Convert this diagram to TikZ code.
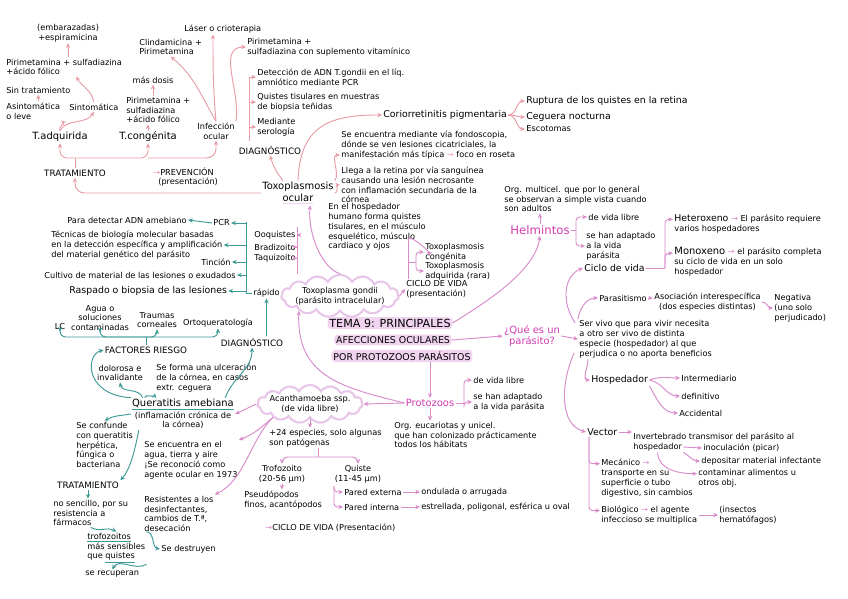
\documentclass[tikz,border=0pt]{standalone}
\usepackage{fontspec}
\setmainfont{DejaVu Sans}
\usepackage{tikz}
\usepackage{xcolor}
\usetikzlibrary{arrows.meta,positioning,shapes.symbols,calc}
\definecolor{salmon}{HTML}{E89CA5}
\definecolor{mauve}{HTML}{D88ACB}
\definecolor{magtext}{HTML}{D23DB2}
\definecolor{tealc}{HTML}{3C9995}
\definecolor{lav}{HTML}{F0D4EF}
\definecolor{cloudc}{HTML}{E7C6E8}
\begin{document}
\begin{tikzpicture}[x=0.3mm,y=-0.3mm,
txt/.style={inner sep=1pt,anchor=west,align=left,font=\fontsize{7}{8.4}\selectfont},
ctr/.style={txt,anchor=center,align=center},
mid/.style={txt,font=\fontsize{8}{9.5}\selectfont},
capt/.style={ctr,font=\fontsize{7.5}{9}\selectfont},
big/.style={ctr,font=\fontsize{8.5}{10}\selectfont},
mag/.style={ctr,text=magtext,font=\fontsize{8.5}{10}\selectfont},
tema/.style={fill=lav,rounded corners=3pt,inner sep=1.5pt,font=\fontsize{8}{9.5}\selectfont},
cloudn/.style={cloud,cloud puffs=15,cloud puff arc=120,aspect=4,draw=cloudc,line width=1.8pt,inner sep=-3pt,align=center,font=\fontsize{7}{8.4}\selectfont},
sln/.style={draw=salmon,line width=0.8pt},
sarr/.style={sln,-{Stealth[length=1.4mm,width=1.3mm]}},
pln/.style={draw=mauve,line width=0.8pt},
parr/.style={pln,-{Stealth[length=1.4mm,width=1.3mm]}},
tln/.style={draw=tealc,line width=0.8pt},
tarr/.style={tln,-{Stealth[length=1.4mm,width=1.3mm]}}
]
\useasboundingbox[fill=white] (0,0) rectangle (848,599);
\node[ctr] (esp) at (68,33) {(embarazadas)\\+espiramicina};
\node[txt] (pirA) at (5,67) {Pirimetamina + sulfadiazina\\+ácido fólico};
\node[txt] (sintrat) at (5,90) {Sin tratamiento};
\node[txt] (asint) at (5,111) {Asintomática\\o leve};
\node[txt] (sint) at (68,107) {Sintomática};
\node[big] (tadq) at (60,137) {T.adquirida};
\node[big] (tcong) at (148,137) {T.congénita};
\node[ctr] (masdosis) at (153,80) {más dosis};
\node[txt] (pirC) at (125,110) {Pirimetamina +\\sulfadiazina\\+ácido fólico};
\node[txt] (clinda) at (138,47) {Clindamicina +\\Pirimetamina};
\node[txt] (laser) at (183,29) {Láser o crioterapia};
\node[txt] (pirV) at (246,47) {Pirimetamina +\\sulfadiazina con suplemento vitamínico};
\node[ctr] (infoc) at (216,131) {Infección\\ocular};
\node[capt] (trat) at (75,173) {TRATAMIENTO};
\node[txt] (prev) at (152,177) {{\color{salmon}→}PREVENCIÓN\\\hspace{0.6em}(presentación)};
\node[capt] (diagT) at (270,150) {DIAGNÓSTICO};
\node[txt] (detec) at (256,77) {Detección de ADN T.gondii en el líq.\\amniótico mediante PCR};
\node[txt] (quist) at (256,102) {Quistes tisulares en muestras\\de biopsia teñidas};
\node[txt] (sero) at (256,127) {Mediante\\serología};
\node[big] (toxoc) at (298,193) {Toxoplasmosis\\{\color{lav}\underline{\color{black}ocular}}};
\node[mid] (corio) at (382,115) {Coriorretinitis pigmentaria};
\node[mid] (ruptura) at (525,101) {Ruptura de los quistes en la retina};
\node[mid] (ceguera) at (525,117) {Ceguera nocturna};
\node[txt] (escot) at (525,129) {Escotomas};
\node[txt] (fondo) at (340,145) {Se encuentra mediante vía fondoscopia,\\dónde se ven lesiones cicatriciales, la\\manifestación más típica {\color{salmon}→} foco en roseta};
\node[txt] (llega) at (340,185) {Llega a la retina por vía sanguínea\\causando una lesión necrosante\\con inflamación secundaria de la\\córnea};
\node[cloudn] (toxog) at (340,296) {Toxoplasma gondii\\(parásito intracelular)};
\node[txt] (ooq) at (253,235) {Ooquistes};
\node[txt] (brad) at (253,247) {Bradizoito};
\node[txt] (taq) at (253,258) {Taquizoito};
\node[txt] (hosp) at (327,227) {En el hospedador\\humano forma quistes\\tisulares, en el músculo\\esquelético, músculo\\cardiaco y ojos};
\node[txt] (ciclo) at (405,289) {CICLO DE VIDA\\(presentación)};
\node[txt] (tcongen) at (424,252) {Toxoplasmosis\\congénita};
\node[txt] (tadqui) at (424,271) {Toxoplasmosis\\adquirida (rara)};
\node[txt] (pcr) at (212,223) {PCR};
\node[txt] (paraadn) at (66,220) {Para detectar ADN amebiano};
\node[txt] (tecn) at (50,245) {Técnicas de biología molecular basadas\\en la detección específica y amplificación\\del material genético del parásito};
\node[txt] (tinc) at (200,262) {Tinción};
\node[txt] (cult) at (43,275) {Cultivo de material de las lesiones o exudados};
\node[mid] (rasp) at (68,291) {Raspado o biopsia de las lesiones};
\node[txt] (rapido) at (252,293) {rápido};
\node[capt] (diagA) at (252,342) {DIAGNÓSTICO};
\node[ctr] (lc) at (60,327) {LC};
\node[ctr] (agua) at (100,318) {Agua o\\soluciones\\contaminadas};
\node[ctr] (traumas) at (157,320) {Traumas\\corneales};
\node[ctr] (orto) at (218,323) {Ortoqueratología};
\node[capt] (factores) at (146,350) {FACTORES RIESGO};
\node[ctr] (dolor) at (120,373) {dolorosa e\\invalidante};
\node[txt] (ulcer) at (155,378) {Se forma una ulceración\\de la córnea, en casos\\extr. ceguera};
\node[ctr] (querat) at (183,414) {{\fontsize{8.5}{10}\selectfont\color{tealc}\underline{\color{black}Queratitis amebiana}}\\(inflamación crónica de\\la córnea)};
\node[txt] (confunde) at (75,445) {Se confunde\\con queratitis\\herpética,\\fúngica o\\bacteriana};
\node[capt] (tratA) at (88,485) {TRATAMIENTO};
\node[txt] (nosenc) at (52,513) {no sencillo, por su\\resistencia a\\fármacos};
\node[txt] (trofo) at (86,548) {{\color{tealc}\underline{\color{black}trofozoitos}}\\más sensibles\\que {\color{tealc}\underline{\color{black}quistes}}};
\node[txt] (destr) at (160,549) {Se destruyen};
\node[txt] (recup) at (84,574) {se recuperan};
\node[txt] (encuentra) at (143,460) {Se encuentra en el\\agua, tierra y aire\\¡Se reconoció como\\agente ocular en 1973};
\node[txt] (resist) at (143,514) {Resistentes a los\\desinfectantes,\\cambios de T.ª,\\desecación};
\node[cloudn] (acanth) at (310,404) {Acanthamoeba ssp.\\(de vida libre)};
\node[txt] (esp24) at (268,438) {+24 especies, solo algunas\\son patógenas};
\node[ctr] (trofoz) at (282,474) {Trofozoito\\(20-56 µm)};
\node[ctr] (quiste) at (358,474) {Quiste\\(11-45 µm)};
\node[txt] (pseudo) at (243,500) {Pseudópodos\\finos, acantópodos};
\node[txt] (pext) at (343,492) {Pared externa};
\node[txt] (ondul) at (420,492) {ondulada o arrugada};
\node[txt] (pint) at (343,507) {Pared interna};
\node[txt] (estrel) at (420,507) {estrellada, poligonal, esférica u oval};
\node[txt] (cicloA) at (264,528) {{\color{mauve}→}CICLO DE VIDA (Presentación)};
\node[mag] (proto) at (430,403) {Protozoos};
\node[txt] (pvl) at (472,380) {de vida libre};
\node[txt] (pad) at (472,402) {se han adaptado\\a la vida parásita};
\node[txt] (euc) at (393,435) {Org. eucariotas y unicel.\\que han colonizado prácticamente\\todos los hábitats};
\node[tema,font=\fontsize{9.5}{11}\selectfont] (tema1) at (390,323) {TEMA 9: PRINCIPALES};
\node[tema] (tema2) at (393,340) {AFECCIONES OCULARES};
\node[tema] (tema3) at (402,356) {POR PROTOZOOS PARÁSITOS};
\node[mag] (quees) at (532,336) {¿Qué es un\\parásito?};
\node[txt] (servivo) at (578,339) {Ser vivo que para vivir necesita\\a otro ser vivo de distinta\\especie (hospedador) al que\\perjudica o no aporta beneficios};
\node[mag,font=\fontsize{10}{12}\selectfont] (helm) at (540,230) {Helmintos};
\node[txt] (multicel) at (503,199) {Org. multicel. que por lo general\\se observan a simple vista cuando\\son adultos};
\node[txt] (hvl) at (587,217) {de vida libre};
\node[txt] (had) at (585,246) {se han adaptado\\a la vida\\parásita};
\node[mid] (cvida) at (583,268) {Ciclo de vida};
\node[txt] (hetero) at (673,224) {{\fontsize{8}{9}\selectfont Heteroxeno} {\color{mauve}→} El parásito requiere\\varios hospedadores};
\node[txt] (mono) at (673,262) {{\fontsize{8.5}{10}\selectfont Monoxeno} {\color{mauve}→} el parásito completa\\su ciclo de vida en un solo\\hospedador};
\node[txt] (parasit) at (598,298) {Parasitismo};
\node[txt,align=center] (asoc) at (653,302) {Asociación interespecífica\\(dos especies distintas)};
\node[txt] (neg) at (773,308) {Negativa\\(uno solo\\perjudicado)};
\node[mid] (hospedador) at (590,380) {Hospedador};
\node[txt] (interm) at (680,378) {Intermediario};
\node[txt] (defin) at (680,396) {definitivo};
\node[txt] (accid) at (678,413) {Accidental};
\node[mid] (vector) at (586,432) {Vector};
\node[txt] (invert) at (632,437) {Invertebrado transmisor del parásito al};
\node[txt] (hospv) at (632,447) {hospedador};
\node[txt] (inoc) at (702,448) {inoculación (picar)};
\node[txt] (depos) at (700,461) {depositar material infectante};
\node[txt] (contam) at (697,478) {contaminar alimentos u\\otros obj.};
\node[txt] (mecan) at (600,478) {Mecánico {\color{mauve}→}\\transporte en su\\superficie o tubo\\digestivo, sin cambios};
\node[txt] (biol) at (600,515) {Biológico {\color{mauve}→} el agente\\infeccioso se multiplica};
\node[txt] (insect) at (718,515) {(insectos\\hematófagos)};
\draw[sarr] (esp.south|-pirA.north) -- (esp.south);
\draw[sarr] (sint.north) to[out=100,in=-60] ($(pirA.south)+(12,0)$);
\draw[sarr] (sintrat.south|-asint.north) -- (sintrat.south);
\draw[sarr] (tadq.north) to[out=120,in=-40] (asint.south east);
\draw[sarr] (tadq.north) to[out=60,in=-120] (sint.south);
\draw[sarr] (pirC.north-|masdosis.south) -- (masdosis.south);
\draw[sarr] (tcong.north) -- (tcong.north|-pirC.south);
\coordinate (tb) at (75,158);
\draw[sln] (trat.north) -- (tb);
\draw[sarr,rounded corners=6] (tb) -| (tadq.south);
\draw[sarr,rounded corners=6] (tb) -| (tcong.south);
\draw[sarr,rounded corners=8] (tcong.south|-tb) -| (infoc.south);
\draw[sarr] (infoc.north) to[out=120,in=-40] (clinda.south);
\draw[sarr] (infoc.north) to[out=95,in=-90] ($(laser.south west)+(30,0)$);
\draw[sarr] (infoc.north east) to[out=80,in=180] (pirV.west);
\draw[sarr,rounded corners=8] (toxoc.west) -| (trat.south);
\draw[sarr] ($(toxoc.north)+(-15,0)$) to[bend left=10] (diagT.south);
\coordinate (dgb) at (249,141);
\draw[sln] (dgb) -- (dgb|-detec.west);
\foreach \n in {detec,quist,sero} \draw[sarr] (dgb|-\n.west) -- (\n.west);
\draw[sarr] (toxoc.north) .. controls (300,125) and (330,115) .. (corio.west);
\foreach \n in {ruptura,ceguera,escot} \draw[sarr] (corio.east) to[out=0,in=180] (\n.west);
\draw[sarr] (toxoc.north east) to[out=60,in=180] (fondo.west|-0,155);
\draw[sarr] (toxoc.east) to[out=0,in=180] (llega.west);
\draw[parr] (toxog.north) .. controls (322,268) and (308,235) .. ($(toxoc.south)+(12,0)$);
\coordinate (ob) at (297,227);
\draw[pln] (ob) -- (ob|-toxog.north);
\foreach \n in {ooq,brad,taq} \draw[parr] (ob|-\n.east) -- (\n.east);
\draw[parr] (toxog.east) -- (ciclo.west);
\coordinate (cb) at (408,240);
\draw[pln] (ciclo.north-|cb) -- (cb);
\draw[parr] (cb) to[out=90,in=-30] (hosp.south east);
\coordinate (cc) at (416,262);
\draw[pln] (cb|-cc) -- (cc);
\draw[parr,rounded corners=3] (cc) |- (tcongen.west);
\draw[parr,rounded corners=3] (cc) |- (tadqui.west);
\draw[tarr] (pcr.west) -- (paraadn.east);
\coordinate (rv) at (246,222);
\draw[tln] (rv) -- (rv|-rapido.west) -- (rapido.west);
\foreach \n in {pcr,tecn,tinc,cult,rasp} \draw[tarr] (rv|-\n.east) -- (\n.east);
\draw[tarr] (diagA.north-|rapido.south) -- (rapido.south);
\draw[tarr] ($(querat.north east)+(-10,0)$) to[out=70,in=-90] (diagA.south);
\draw[tarr] (querat.north west) .. controls (85,395) and (85,355) .. (factores.west);
\coordinate (fb) at (146,337);
\draw[tln] (factores.north) -- (fb);
\foreach \n in {lc,agua,traumas,orto} \draw[tarr,rounded corners=5] (fb) -| (\n.south);
\draw[tarr] ($(querat.north west)+(12,0)$) to[out=110,in=-80] (dolor.south);
\draw[tarr] ($(querat.north west)+(14,0)$) to[out=80,in=-100] (ulcer.south west);
\draw[tarr] (querat.west) to[out=190,in=30] (confunde.north);
\draw[tarr] ($(querat.south west)+(8,0)$) .. controls (135,450) and (130,470) .. (tratA.north east);
\draw[tarr] (tratA.south) -- (tratA.south|-nosenc.north);
\draw[tarr] (nosenc.south) to[out=-30,in=150] (trofo.north);
\draw[tarr] (trofo.north east) to[out=-10,in=170] (destr.west);
\draw[tarr] (trofo.south east) to[out=-150,in=60] (recup.north);
\draw[parr] (acanth.west) -- (querat.east);
\draw[parr] (acanth.south west) to[out=-140,in=20] (encuentra.north east);
\draw[parr] (acanth.south west) .. controls (250,440) and (245,480) .. (resist.north east);
\draw[parr] (acanth.south) -- (acanth.south|-esp24.north);
\coordinate (eb) at (318,457);
\draw[pln] (esp24.south-|eb) -- (eb);
\draw[parr,rounded corners=5] (eb) -| (trofoz.north);
\draw[parr,rounded corners=5] (eb) -| (quiste.north);
\draw[parr] (trofoz.south) -- (trofoz.south|-pseudo.north);
\coordinate (qb) at (334,486);
\draw[parr,rounded corners=3] (qb) |- (pext.west);
\draw[parr,rounded corners=3] (qb) |- (pint.west);
\draw[parr] (pext.east) -- (ondul.west);
\draw[parr] (pint.east) -- (estrel.west);
\draw[parr] (tema3.south-|proto.north) -- (proto.north);
\draw[parr] (proto.west) -- (acanth.east);
\draw[parr] (proto.west) .. controls (345,388) and (296,378) .. (toxog.south west);
\coordinate (pb) at (464,403);
\draw[pln] (proto.east) -- (pb);
\draw[parr,rounded corners=3] (pb) |- (pvl.west);
\draw[parr,rounded corners=3] (pb) |- (pad.west);
\draw[parr] (proto.south) -- (proto.south|-euc.north);
\draw[parr] (tema1.east) .. controls (490,300) and (535,270) .. (helm.south);
\draw[parr] (tema2.east) -- (quees.west);
\draw[parr] (quees.east) -- (servivo.west);
\draw[parr] (servivo.north west) to[out=80,in=180] (parasit.west);
\draw[parr] ($(servivo.north west)+(-3,4)$) .. controls (560,300) and (565,275) .. (cvida.west);
\draw[parr] ($(servivo.south west)+(10,0)$) to[out=-90,in=180] (hospedador.west);
\draw[parr] ($(servivo.south west)+(-4,-6)$) .. controls (560,385) and (560,425) .. (vector.west);
\draw[parr] (helm.north) -- (helm.north|-multicel.south);
\coordinate (hb) at (576,230);
\draw[pln] (helm.east) -- (hb);
\draw[parr,rounded corners=3] (hb) |- (hvl.west);
\draw[parr,rounded corners=3] (hb) |- (had.west);
\coordinate (cvb) at (665,268);
\draw[pln] (cvida.east) -- (cvb);
\draw[parr,rounded corners=3] (cvb) |- ($(hetero.north west)+(0,6)$);
\draw[parr,rounded corners=3] (cvb) |- ($(mono.north west)+(0,7)$);
\draw[parr] (parasit.east) -- (parasit.east-|asoc.west);
\draw[parr] (asoc.east) to[out=0,in=180] (neg.west);
\draw[parr] (hospedador.east) to[out=20,in=180] (interm.west);
\draw[parr] (hospedador.east) to[out=-10,in=180] (defin.west);
\draw[parr] (hospedador.south east) to[out=-60,in=180] (accid.west);
\draw[parr] (vector.east) -- (vector.east-|invert.west);
\draw[parr] (hospv.east) -- (inoc.west);
\draw[parr] (hospv.south east) to[out=-30,in=180] (depos.west);
\draw[parr] (hospv.south) to[out=-90,in=180] ($(contam.north west)+(0,6)$);
\coordinate (vb) at ($(vector.south west)+(3,0)$);
\draw[parr,rounded corners=3] (vb) |- ($(mecan.north west)+(0,6)$);
\draw[parr,rounded corners=3] (vb) |- ($(biol.north west)+(0,6)$);
\draw[parr] (biol.east) -- (insect.west);
\end{tikzpicture}
\end{document}
